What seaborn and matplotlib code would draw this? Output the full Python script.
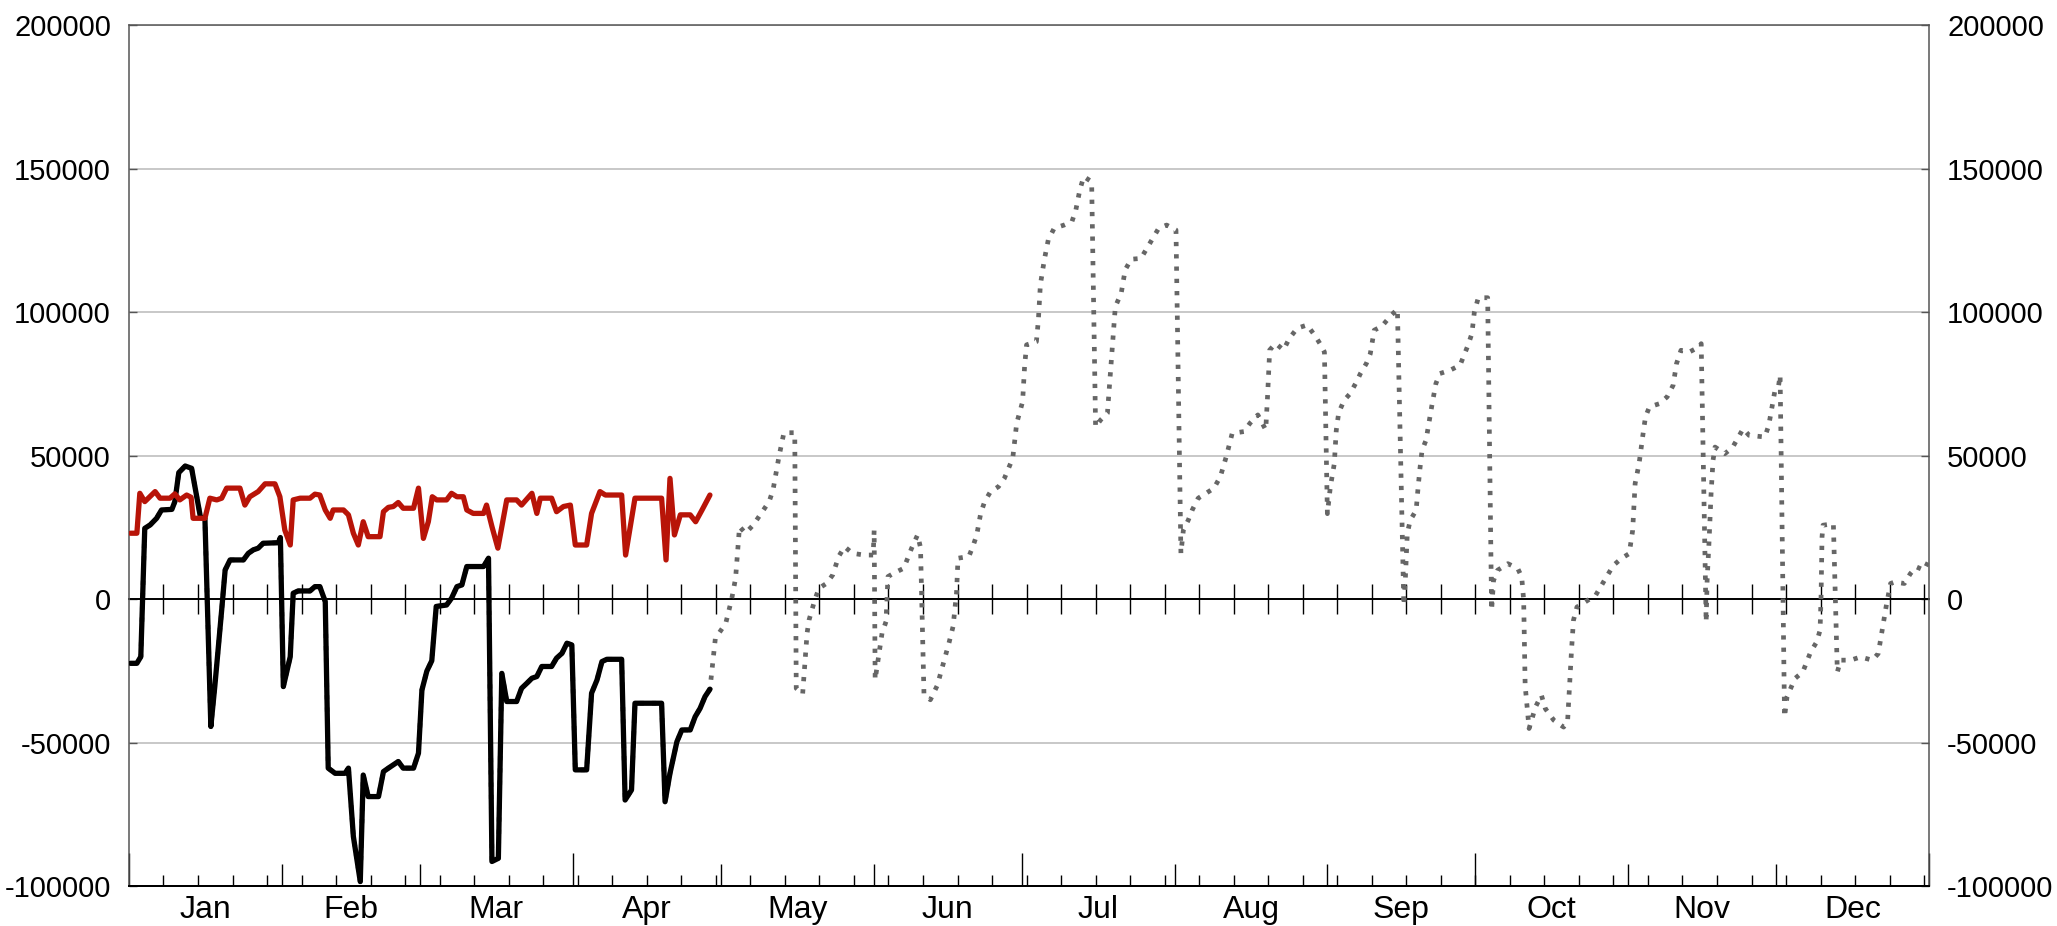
import pandas as pd
import seaborn as sns
import matplotlib.pyplot as plt

months = ["Jan", "Feb", "Mar", "Apr", "May", "Jun",
          "Jul", "Aug", "Sep", "Oct", "Nov", "Dec"]
month_start = [0, 31, 59, 90, 120, 151, 181, 212, 243, 273, 304, 334, 365]
quarter_start = [0, 90, 181, 273, 365]
week_ticks = list(range(7, 365, 7))
y_ticks = [-100000, -50000, 0, 50000, 100000, 150000, 200000]

# black series (Jan - Apr)
black_day = [0.3, 1.6, 2.4, 3.2, 4.3, 5.6, 6.6, 8.7, 9.3, 10.1, 11.4, 12.7, 13.5, 14.5,
             15.4, 16.6, 17.4, 18.8, 19.5, 20.5, 23.2, 24.2, 25.2, 26.2, 27.2, 30.3,
             30.7, 31.3, 32.7, 33.3, 34.3, 36.7, 37.7, 38.7, 39.8, 40.4, 41.8, 43.8,
             44.5, 45.5, 46.9, 47.5, 48.5, 50.6, 51.6, 52.6, 54.6, 55.6, 57.7, 58.7,
             59.4, 60.4, 61.4, 62.3, 64.4, 65.4, 66.5, 67.5, 68.5, 71.9, 72.9, 73.6,
             74.9, 75.6, 76.6, 78.6, 79.6, 80.7, 81.7, 82.7, 83.7, 85.7, 86.7, 87.8,
             88.8, 89.8, 90.5, 92.8, 93.8, 94.9, 95.9, 96.9, 99.9, 100.6, 101.9, 102.6,
             108.0, 108.7, 109.7, 111.1, 112.1, 113.8, 114.8, 115.8, 116.8, 117.8]
black_val = [-22300, -22300, -20000, 24700, 25900, 28200, 31100, 31300, 34000, 44100,
             46400, 45600, 38000, 28500, 28200, -44300, -30400, -3700, 10200, 13700,
             13700, 16000, 17200, 17800, 19500, 19700, 21500, -30400, -20000, 2100,
             2900, 2900, 4400, 4400, -800, -58800, -60600, -60600, -58800, -82600,
             -98300, -61200, -68700, -68700, -60000, -58800, -56500, -58800, -58800,
             -53600, -31600, -25000, -21400, -2500, -2000, 350, 4400, 5000, 11400,
             11400, 14300, -91300, -90200, -25800, -35600, -35600, -31000, -29200,
             -27500, -26900, -23400, -23400, -20500, -18800, -15300, -15900, -59400,
             -59400, -32700, -28100, -21700, -20900, -20900, -69900, -66400, -36200,
             -36200, -70500, -60600, -49600, -45500, -45500, -40900, -38000, -33900,
             -31300]

# red series (Jan - Apr)
red_day = [0.3, 1.6, 2.2, 3.2, 5.3, 6.3, 8.3, 9.3, 10.3, 11.7, 12.6, 13.0, 15.4, 16.4,
           17.8, 18.8, 19.8, 22.5, 23.5, 24.5, 26.2, 27.6, 29.6, 30.6, 31.6, 32.7,
           33.3, 34.7, 36.7, 37.7, 38.7, 39.8, 40.8, 41.4, 43.5, 44.5, 45.5, 46.5,
           47.5, 48.5, 50.9, 51.6, 52.6, 53.6, 54.6, 55.6, 57.7, 58.7, 59.7, 60.7,
           61.5, 62.4, 64.4, 65.4, 66.5, 67.8, 68.5, 69.8, 71.9, 72.5, 73.6, 74.8,
           76.6, 78.6, 79.6, 81.7, 82.7, 83.4, 85.7, 86.7, 88.1, 89.5, 90.5, 92.8,
           93.8, 95.5, 96.6, 99.9, 100.7, 102.6, 108.0, 108.9, 109.7, 110.6, 111.8,
           113.8, 114.9, 116.2, 117.8]
red_val = [23000, 23000, 36900, 34000, 37500, 35200, 35200, 36700, 34600, 36300, 35500,
           28200, 28200, 35200, 34600, 35200, 38700, 38700, 32800, 35700, 37500, 40200,
           40200, 35700, 24100, 18900, 34600, 35200, 35200, 36600, 36300, 31100, 28200,
           31100, 31100, 29400, 23000, 18900, 27000, 21800, 21800, 30500, 32000, 32300,
           33700, 31700, 31700, 38700, 21200, 27000, 35700, 34600, 34600, 36900, 35700,
           35700, 31100, 29900, 29900, 32800, 25300, 17800, 34600, 34600, 32800, 36900,
           29900, 35200, 35200, 30500, 32300, 32800, 18900, 18900, 29900, 37500, 36300,
           36300, 15400, 35200, 35200, 13700, 42100, 22400, 29400, 29400, 27000, 31100,
           36300]

# gray dotted series, continues the black one to the end of the year
gray_day = [118.9, 121.0, 122.2, 123.0, 123.8, 125.0, 126.6, 129.8, 130.6, 131.8, 132.8,
            135.0, 135.3, 136.6, 137.5, 137.9, 139.1, 139.9, 141.5, 142.7, 143.9, 145.1,
            146.7, 149.1, 150.9, 151.1, 151.3, 152.7, 153.5, 153.9, 155.1, 157.1, 158.7,
            159.9, 160.5, 161.2, 162.5, 163.9, 165.5, 166.3, 167.1, 167.8, 168.1, 170.3,
            171.1, 171.9, 172.7, 173.5, 174.7, 176.3, 177.5, 179.2, 180.0, 181.2, 181.6,
            182.0, 184.0, 184.4, 184.8, 185.6, 186.4, 187.6, 189.6, 191.2, 192.0, 192.8,
            193.6, 195.2, 196.0, 197.0, 198.4, 199.2, 199.6, 200.0, 201.2, 202.0, 203.2,
            205.2, 206.4, 207.6, 208.8, 210.4, 212.3, 213.3, 213.8, 214.8, 215.6, 216.8,
            218.4, 220.0, 221.3, 222.5, 223.7, 226.1, 227.3, 228.9, 230.5, 230.9, 231.3,
            232.5, 234.1, 235.3, 236.9, 238.9, 240.6, 241.5, 242.4, 243.0, 243.6, 244.4,
            244.8, 245.3, 246.4, 247.6, 248.9, 249.7, 250.9, 251.7, 252.1, 252.5, 254.0,
            256.0, 257.2, 258.5, 258.8, 259.2, 259.8, 261.0, 261.4, 261.8, 262.2, 263.0,
            263.8, 264.2, 265.0, 265.8, 267.8, 269.9, 270.7, 271.5, 272.3, 272.8, 273.6,
            275.5, 276.3, 276.7, 277.5, 279.6, 281.6, 282.4, 282.8, 283.1, 283.9, 285.2,
            286.4, 287.2, 288.9, 290.9, 291.7, 292.1, 292.5, 292.9, 293.6, 295.3, 297.4,
            298.6, 299.8, 301.0, 302.6, 304.2, 304.9, 305.4, 306.2, 307.1, 307.5, 308.3,
            310.3, 311.9, 313.1, 313.8, 314.7, 316.4, 318.4, 318.8, 319.8, 320.0, 320.4,
            320.8, 321.2, 321.6, 323.6, 325.2, 327.3, 328.5, 331.7, 332.5, 333.7, 334.5,
            334.8, 335.7, 336.2, 337.8, 339.4, 340.2, 341.0, 342.2, 342.9, 343.1, 343.3,
            343.5, 345.6, 346.4, 347.1, 349.1, 351.1, 353.5, 354.7, 355.6, 356.4, 357.2,
            358.0, 360.0, 361.2, 362.4, 364.0, 365.0]
gray_val = [-13600, -8400, 0, 7300, 25300, 23000, 25900, 34000, 38100, 49700, 58000,
            58000, -31000, -33000, -11800, -7200, 0, 3800, 5600, 8500, 14900, 18300,
            16000, 15400, 15400, 24000, -28000, -11800, -7800, 7900, 9100, 10800, 17800,
            22400, 18000, -33000, -35000, -30000, -20000, -15000, -9500, 2100, 14300,
            14900, 18300, 22400, 29900, 34000, 37500, 39200, 42100, 49100, 61300, 68800,
            81000, 88600, 89700, 97300, 109500, 118200, 125100, 129200, 130300, 131500,
            135600, 142500, 147200, 145400, 60000, 62400, 64800, 83300, 92600, 101900,
            106600, 114700, 118400, 118700, 122200, 125700, 129200, 130300, 128600,
            16000, 24100, 27600, 31100, 35200, 36900, 38700, 42700, 49700, 57800, 58400,
            61300, 64200, 59000, 71700, 86800, 89100, 86800, 90900, 94400, 95500, 91500,
            89000, 86100, 29800, 39100, 47200, 58800, 65000, 69300, 71600, 75700, 78600,
            82100, 85500, 89600, 93700, 95000, 99000, 101000, -2100, 6600, 22900, 27500,
            31000, 39100, 46000, 51900, 55400, 63500, 67600, 75100, 78600, 79700, 81500,
            85000, 88400, 92500, 100000, 105000, 105000, -3800, 6600, 10100, 12400,
            10700, 7800, -300, -30000, -45000, -37500, -33400, -38100, -42100, -44500,
            -42700, -30500, -17800, -7300, -2700, -900, 1400, 4900, 8400, 11800, 14200,
            15900, 24000, 40300, 47200, 58800, 63500, 67000, 68100, 70500, 74500, 82100,
            86700, 86100, 87900, 89000, -7900, 6600, 20500, 36800, 48400, 53000, 50700,
            53000, 59400, 57100, 56500, 60600, 72200, 74500, 78000, -41000, -34000,
            -27600, -25300, -21800, -18300, -14900, -10800, 800, 21700, 25800, 26300,
            -25300, -21200, -21200, -20100, -21200, -18900, -9600, -1500, 5500, 6000,
            5500, 8900, 11300, 10100, 13600]

sns.set_style("white")
plt.rcParams['font.family'] = ['Liberation Sans', 'DejaVu Sans']
plt.rcParams['axes.unicode_minus'] = False
plt.rcParams['text.color'] = 'black'
plt.rcParams['xtick.color'] = 'black'
plt.rcParams['ytick.color'] = 'black'

fig = plt.figure(figsize=(20.57, 9.26), dpi=100)
ax = fig.add_axes([0.0627, 0.0427, 0.8751, 0.9304])

gray_df = pd.DataFrame({"day": black_day + gray_day, "val": black_val + gray_val})
black_df = pd.DataFrame({"day": black_day, "val": black_val})
red_df = pd.DataFrame({"day": red_day, "val": red_val})

sns.lineplot(data=gray_df, x="day", y="val", ax=ax, estimator=None, sort=False,
             color="#666666", lw=3.4, linestyle=(0, (0.9, 1.7)), dash_capstyle="butt", zorder=3)
sns.lineplot(data=black_df, x="day", y="val", ax=ax, estimator=None, sort=False,
             color="black", lw=3.8, zorder=4)
sns.lineplot(data=red_df, x="day", y="val", ax=ax, estimator=None, sort=False,
             color="#b81408", lw=3.8, zorder=5)

ax.set_xlim(0, 365)
ax.set_ylim(-100000, 200000)
ax.set_xlabel("")
ax.set_ylabel("")

# y axis, labels on both sides
ax.set_yticks(y_ticks)
ax.set_yticklabels([str(v) for v in y_ticks])
ax.yaxis.grid(True, color="#c8c8c8", lw=1.4)
ax.set_axisbelow(True)
ax.tick_params(axis="y", direction="in", length=5.5, width=1, color="#555555",
               left=True, right=True, labelleft=True, labelright=True,
               labelsize=21, pad=13)

# weekly ticks at the bottom, month names centred in each month
mid_month = [(a + b) / 2 for a, b in zip(month_start[:-1], month_start[1:])]
ax.xaxis.remove_overlapping_locs = False
ax.set_xticks(week_ticks)
ax.set_xticklabels([])
ax.set_xticks(mid_month, minor=True)
ax.set_xticklabels(months, minor=True)
ax.tick_params(axis="x", which="major", direction="in", length=7.9, width=1,
               color="black", bottom=True)
ax.tick_params(axis="x", which="minor", length=0, labelsize=23, pad=6, bottom=True)

# month and quarter boundary ticks
sec = ax.secondary_xaxis("bottom")
sec.set_xticks(quarter_start)
sec.set_xticklabels([])
sec.set_xticks(month_start, minor=True)
sec.set_xticklabels([], minor=True)
sec.tick_params(axis="x", which="major", direction="in", length=24, width=1, color="black")
sec.tick_params(axis="x", which="minor", direction="in", length=15.8, width=1, color="black")
sec.spines["bottom"].set_color("black")
sec.spines["bottom"].set_linewidth(1.4)
sec.set_zorder(2)

# zero line with weekly ticks crossing it
zero = ax.secondary_xaxis(1 / 3)
zero.set_xticks(week_ticks)
zero.set_xticklabels([])
zero.tick_params(axis="x", which="major", direction="inout", length=21, width=1, color="black")
zero.tick_params(axis="x", which="minor", length=0)
for s in zero.spines.values():
    s.set_color("black")
    s.set_linewidth(1.4)
zero.set_zorder(2)

for side in ["top", "left", "right"]:
    ax.spines[side].set_color("#555555")
    ax.spines[side].set_linewidth(1.1)
ax.spines["bottom"].set_color("black")
ax.spines["bottom"].set_linewidth(1.4)

fig.savefig("out.png", dpi=100)
